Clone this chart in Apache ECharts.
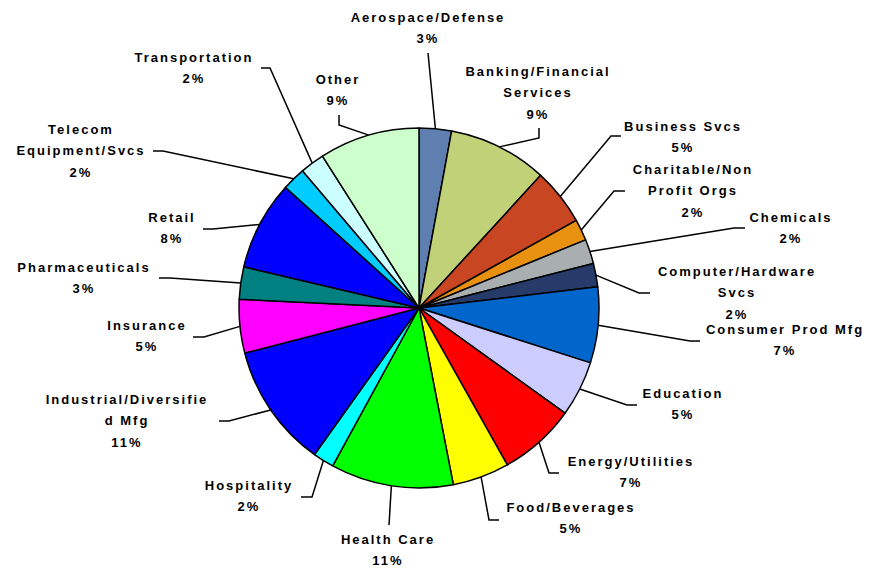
<!DOCTYPE html>
<html>
<head>
<meta charset="utf-8">
<script src="https://cdn.jsdelivr.net/npm/echarts@6/dist/echarts.min.js"></script>
<style>
  html, body { margin: 0; padding: 0; background: #fff; }
  #industryPie { width: 882px; height: 568px; }
  #industryPie text { letter-spacing: 2px; }
</style>
</head>
<body>
<div id="industryPie"></div>
<script>
// industry shares, clockwise from 12 o'clock
var categories = [
  'Aerospace/Defense', 'Banking/Financial\nServices', 'Business Svcs',
  'Charitable/Non\nProfit Orgs', 'Chemicals', 'Computer/Hardware\nSvcs',
  'Consumer Prod Mfg', 'Education', 'Energy/Utilities', 'Food/Beverages',
  'Health Care', 'Hospitality', 'Industrial/Diversifie\nd Mfg', 'Insurance',
  'Pharmaceuticals', 'Retail', 'Telecom\nEquipment/Svcs', 'Transportation', 'Other'
];
var shares = [2.9, 8.9, 5.1, 1.9, 2.2, 2.1, 6.8, 5.0, 6.9, 5.1, 11.0, 1.9, 11.1, 4.8, 2.9, 8.0, 2.1, 2.2, 9.0];
var sliceColors = [
  '#5f7fb0', '#c1d177', '#c84622', '#e8900f', '#a9aeb0', '#263b6a', '#0066cc',
  '#ccccff', '#ff0000', '#ffff00', '#00ff00', '#00ffff', '#0000ff', '#ff00ff',
  '#008080', '#0000ff', '#00ccff', '#ccffff', '#ccffcc'
];

// label placement: text centre x, first line centre y, elbow x/y, line end x/y
var labelSpots = [
  [428, 17, 428, 53, 428, 53],
  [538, 71, 539, 138, 539, 128],
  [683, 126, 611, 136, 621, 136],
  [693, 169, 614, 191, 625, 191],
  [791, 217, 734, 228, 745, 228],
  [737, 271, 639, 293, 650, 293],
  [785, 329, 690, 341, 700, 341],
  [683, 393, 627, 405, 637, 405],
  [631, 461, 549, 473, 559, 473],
  [571, 507, 489, 520, 499, 520],
  [388, 539, 389, 525, 389, 525],
  [249, 485, 312, 497, 301, 497],
  [127, 399, 229, 421, 219, 421],
  [147, 325, 204, 337, 193, 337],
  [84, 267, 170, 278, 159, 278],
  [172, 217, 213, 229, 203, 229],
  [81, 129, 163, 151, 153, 151],
  [194, 57, 270, 68, 261, 68],
  [338, 79, 339, 125, 339, 115]
];

var lineH = 21.5;
var chart = echarts.init(document.getElementById('industryPie'), null, { renderer: 'svg' });

var pieData = categories.map(function (name, i) {
  return { name: name, value: shares[i], itemStyle: { color: sliceColors[i] } };
});

var option = {
  animation: false,
  backgroundColor: '#fff',
  series: [{
    type: 'pie',
    center: [419, 308],
    radius: 180,
    startAngle: 90,
    clockwise: true,
    avoidLabelOverlap: false,
    data: pieData,
    itemStyle: { borderColor: '#000', borderWidth: 1.5 },
    label: {
      show: true,
      position: 'outer',
      formatter: function (p) { return p.name + '\n' + Math.round(p.percent) + '%'; },
      color: '#000',
      fontFamily: 'Liberation Sans, Arial, sans-serif',
      fontWeight: 'bold',
      fontSize: 13,
      lineHeight: lineH,
      align: 'center'
    },
    labelLine: { show: true, lineStyle: { color: '#000', width: 1.5 } },
    labelLayout: function (params) {
      var s = labelSpots[params.dataIndex];
      var edge = params.labelLinePoints ? params.labelLinePoints[0] : [s[2], s[3]];
      return {
        x: s[0],
        y: s[1] - lineH / 2,
        align: 'center',
        verticalAlign: 'top',
        labelLinePoints: [edge, [s[2], s[3]], [s[4], s[5]]]
      };
    },
    emphasis: { disabled: true }
  }]
};
option && chart.setOption(option);
</script>
</body>
</html>
